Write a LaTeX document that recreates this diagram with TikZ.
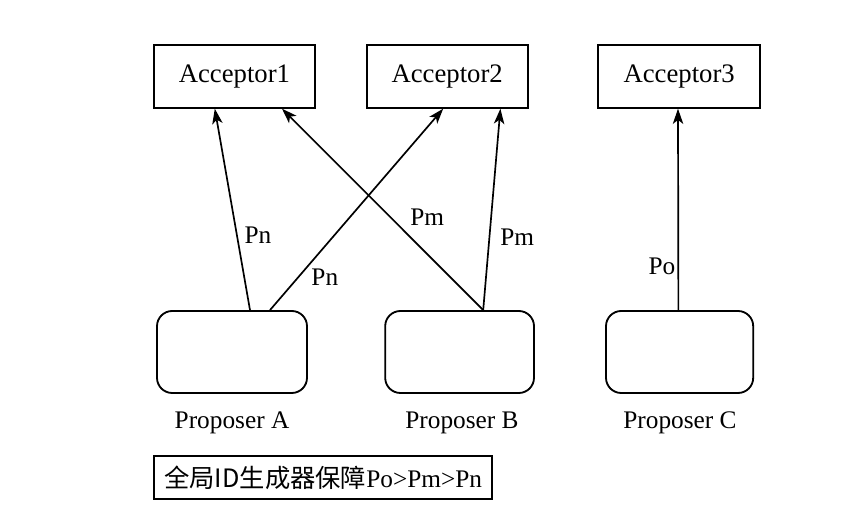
\documentclass[tikz,border=0pt]{standalone}
\usepackage{fontspec}
\setmainfont{Liberation Serif}
\newfontfamily\cjk{Noto Sans CJK SC}
\usepackage{tikz}
\usetikzlibrary{arrows.meta}
\tikzstyle{Acceptor}=[minimum width=4.02cm, minimum height=1.57cm, fill=white, line width=1.3pt, draw=black, shape=rectangle, text=black, font=\fontsize{19}{23}\selectfont]
\tikzstyle{Proposer}=[minimum width=3.72cm, minimum height=2.05cm, fill=white, line width=1.3pt, draw=black, shape=rectangle, rounded corners=0.38cm]
\tikzstyle{Label}=[text=black, font=\fontsize{18}{22}\selectfont]
\tikzstyle{arrow}=[line width=1.2pt, -{Stealth[length=0.38cm, width=0.26cm, inset=0.1cm]}]
\pgfdeclarelayer{nodelayer}
\pgfdeclarelayer{edgelayer}
\pgfsetlayers{nodelayer, edgelayer, main}
\begin{document}
\begin{tikzpicture}
	\useasboundingbox (0, 0) rectangle (21.55, 12.85);
	\begin{pgfonlayer}{nodelayer}
		\node [style=Acceptor] (acc1) at (5.86, 10.94) {Acceptor1};
		\node [style=Acceptor] (acc2) at (11.18, 10.94) {Acceptor2};
		\node [style=Acceptor, minimum width=4.05cm] (acc3) at (16.98, 10.94) {Acceptor3};
		% proposers
		\node [style=Proposer, minimum width=3.75cm] (propA) at (5.8, 4.05) {};
		\node [style=Proposer] (propB) at (11.49, 4.05) {};
		\node [style=Proposer, minimum width=3.68cm] (propC) at (16.99, 4.05) {};
		\node [style=Label] (nameA) at (5.8, 2.27) {Proposer A};
		\node [style=Label] (nameB) at (11.55, 2.27) {Proposer B};
		\node [style=Label] (nameC) at (17.0, 2.29) {Proposer C};
	\end{pgfonlayer}
	\begin{pgfonlayer}{edgelayer}
		\draw [style=arrow] ([xshift=0.45cm]propA.north) to ([xshift=-0.49cm]acc1.south);
		\draw [style=arrow] ([xshift=0.95cm]propA.north) to ([xshift=-0.1cm]acc2.south);
		\draw [style=arrow] ([xshift=0.59cm]propB.north) to ([xshift=1.19cm]acc1.south);
		\draw [style=arrow] ([xshift=0.59cm]propB.north) to ([xshift=1.33cm]acc2.south);
		\draw [style=arrow] ([xshift=-0.03cm]propC.north) to ([xshift=-0.03cm]acc3.south);

		% labels
		\node [style=Label] (pn1) at (6.45, 6.98) {Pn};
		\node [style=Label] (pn2) at (8.12, 5.93) {Pn};
		\node [style=Label] (pm1) at (10.68, 7.43) {Pm};
		\node [style=Label] (pm2) at (12.93, 6.93) {Pm};
		\node [style=Label] (po) at (16.55, 6.18) {Po};
		\node [style=Label, draw=black, line width=1.3pt, minimum width=8.45cm, minimum height=1.07cm, inner sep=0pt] (note) at (8.08, 0.91) {{\cjk 全局ID生成器保障}Po>Pm>Pn};
	\end{pgfonlayer}
\end{tikzpicture}
\end{document}
